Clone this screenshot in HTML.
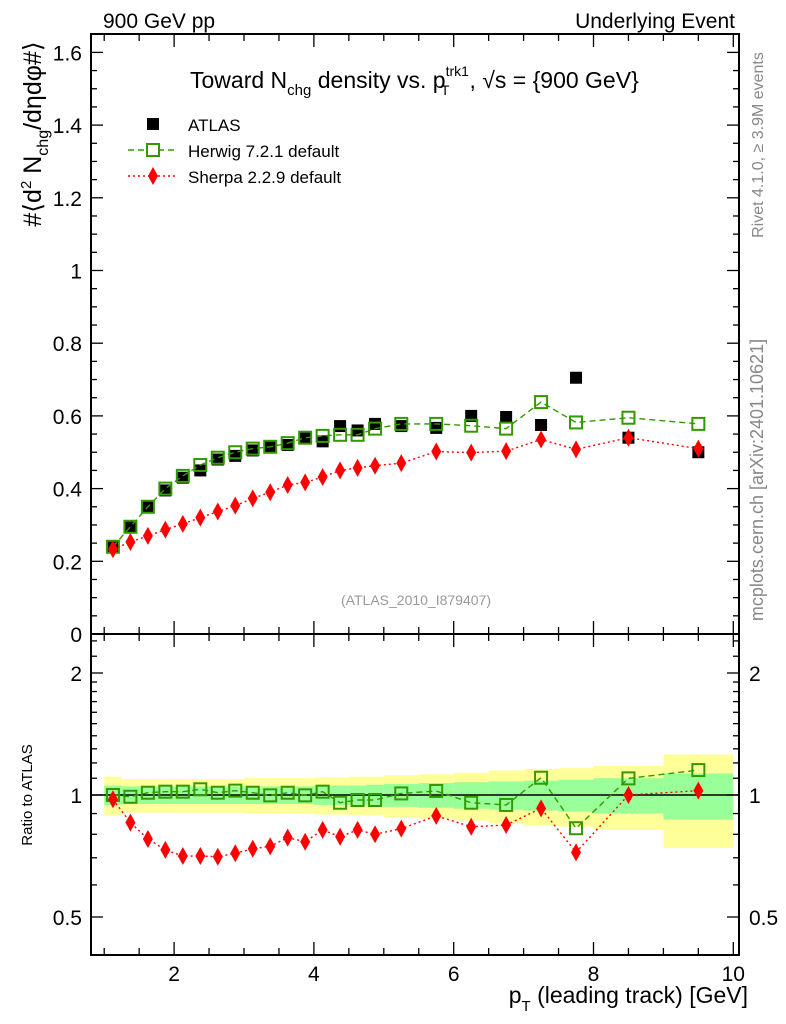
<!DOCTYPE html>
<html><head><meta charset="utf-8">
<style>
html,body{margin:0;padding:0;background:#fff;}
svg{display:block;font-family:"Liberation Sans",Arial,sans-serif;}
</style></head>
<body>
<svg id="chart" width="786" height="1024" viewBox="0 0 786 1024">
<rect x="0" y="0" width="786" height="1024" fill="#fff"/>
<g id="bands"></g>
<g id="grid"></g>
<g id="marks"></g>
<g id="legend"></g>
<text x="103" y="28" font-size="21">900 GeV pp</text>
<text x="735" y="28" font-size="21" text-anchor="end">Underlying Event</text>
<text x="190" y="88" font-size="23">Toward N<tspan font-size="15" dy="7">chg</tspan><tspan dy="-7"> density vs. p</tspan><tspan font-size="14" dy="-12">trk1</tspan><tspan font-size="14" dx="-28" dy="19">T</tspan><tspan dx="20" dy="-7">, √s = {900 GeV}</tspan></text>
<text x="416" y="605" font-size="14" fill="#999" text-anchor="middle">(ATLAS_2010_I879407)</text>
<text transform="translate(41,134) rotate(-90)" font-size="25" text-anchor="middle">#⟨d<tspan font-size="15" dy="-10">2</tspan><tspan dy="10"> N</tspan><tspan font-size="16" dy="7">chg</tspan><tspan dy="-7">/dηdφ#⟩</tspan></text>
<text transform="translate(32,795) rotate(-90)" font-size="15" text-anchor="middle">Ratio to ATLAS</text>
<text x="748" y="1003" font-size="23" text-anchor="end">p<tspan font-size="15" dy="8">T</tspan><tspan dy="-8"> (leading track) [GeV]</tspan></text>
<text transform="translate(763,145) rotate(-90)" font-size="16" fill="#888" text-anchor="middle">Rivet 4.1.0, ≥ 3.9M events</text>
<text transform="translate(763,480) rotate(-90)" font-size="18" fill="#888" text-anchor="middle">mcplots.cern.ch [arXiv:2401.10621]</text>
</svg>
<script>
const xCenters=[1.125,1.375,1.625,1.875,2.125,2.375,2.625,2.875,3.125,3.375,3.625,3.875,4.125,4.375,4.625,4.875,5.25,5.75,6.25,6.75,7.25,7.75,8.5,9.5];
const xEdges=[1,1.25,1.5,1.75,2,2.25,2.5,2.75,3,3.25,3.5,3.75,4,4.25,4.5,4.75,5,5.5,6,6.5,7,7.5,8,9,10];
const atlas=[0.24,0.295,0.35,0.395,0.43,0.45,0.48,0.49,0.505,0.515,0.52,0.54,0.53,0.572,0.56,0.578,0.572,0.567,0.60,0.597,0.575,0.705,0.54,0.50];
const herwig=[0.24,0.295,0.35,0.40,0.435,0.465,0.485,0.50,0.51,0.515,0.525,0.54,0.545,0.548,0.548,0.565,0.578,0.578,0.573,0.565,0.638,0.582,0.595,0.578];
const sherpa=[0.233,0.253,0.27,0.287,0.303,0.32,0.337,0.353,0.373,0.39,0.41,0.417,0.432,0.45,0.457,0.463,0.47,0.502,0.499,0.503,0.535,0.508,0.54,0.51];
const herwigRatio=[1.0,0.99,1.013,1.019,1.019,1.033,1.013,1.025,1.013,0.998,1.013,0.998,1.019,0.957,0.972,0.972,1.009,1.023,0.957,0.945,1.103,0.828,1.099,1.152];
const sherpaRatio=[0.976,0.855,0.779,0.732,0.707,0.707,0.704,0.718,0.737,0.747,0.785,0.767,0.82,0.789,0.82,0.80,0.826,0.888,0.835,0.843,0.927,0.722,1.0,1.025];
const statErr=[0.055,0.05,0.05,0.05,0.05,0.05,0.05,0.05,0.05,0.05,0.05,0.05,0.055,0.055,0.055,0.06,0.065,0.07,0.075,0.08,0.085,0.09,0.1,0.13];
const totErr=[0.11,0.095,0.095,0.095,0.095,0.095,0.095,0.095,0.1,0.1,0.1,0.1,0.105,0.105,0.11,0.11,0.12,0.125,0.135,0.15,0.16,0.165,0.18,0.26];
const mainTicks=[0,0.2,0.4,0.6,0.8,1,1.2,1.4,1.6];
const mainTickLabels=["0","0.2","0.4","0.6","0.8","1","1.2","1.4","1.6"];
const xTicks=[2,4,6,8,10];
const ratioTicks=[0.5,1,2];

const NS="http://www.w3.org/2000/svg";
const L=91,R=739,T=34,MB=634,RB=955;
const xs=v=>34.3+69.9*v;
const ys=v=>634-363.5*v;
const yr=v=>795-122*Math.log2(v);
function mk(tag,attrs,parent){const e=document.createElementNS(NS,tag);for(const k in attrs)e.setAttribute(k,attrs[k]);parent.appendChild(e);return e;}
const grid=document.getElementById('grid'),marks=document.getElementById('marks'),bands=document.getElementById('bands');

for(let i=0;i<xCenters.length;i++){
  const x0=xs(xEdges[i]),x1=xs(xEdges[i+1]);
  const y=mk('rect',{x:x0,y:yr(1+totErr[i]),width:x1-x0,height:yr(1-totErr[i])-yr(1+totErr[i]),fill:'#ffff99'},bands);
  
  
}
for(let i=0;i<xCenters.length;i++){
  const x0=xs(xEdges[i]),x1=xs(xEdges[i+1]);
  const g=mk('rect',{x:x0,y:yr(1+statErr[i]),width:x1-x0,height:yr(1-statErr[i])-yr(1+statErr[i]),fill:'#99ff99'},bands);
  
  
}
const f1=mk('rect',{x:L,y:T,width:R-L,height:MB-T,fill:'none',stroke:'#000','stroke-width':2},grid);


const f2=mk('rect',{x:L,y:MB,width:R-L,height:RB-MB,fill:'none',stroke:'#000','stroke-width':2},grid);


const one=mk('line',{x1:L,x2:R,y1:yr(1),y2:yr(1),stroke:'#000','stroke-width':1.5},grid);


for(let v=0;v<=1.651;v+=0.05){
  const major=Math.abs(v/0.2-Math.round(v/0.2))<1e-6;const len=major?12:6;const y=ys(v);
  mk('line',{x1:L,x2:L+len,y1:y,y2:y,stroke:'#000','stroke-width':1.3},grid);
  mk('line',{x1:R,x2:R-len,y1:y,y2:y,stroke:'#000','stroke-width':1.3},grid);
}
mainTicks.forEach((v,i)=>{
  const t=mk('text',{x:L-9,y:ys(v)+8,'font-size':21,'text-anchor':'end'},grid);t.textContent=mainTickLabels[i];
  
  
});
for(let v=1;v<=10.01;v+=0.5){
  const major=Math.abs(v/2-Math.round(v/2))<1e-6;const len=major?13:7;const x=xs(v);
  [[MB,-1],[RB,-1],[T,1],[MB,1]].forEach(([y0,d])=>mk('line',{x1:x,x2:x,y1:y0,y2:y0+d*len,stroke:'#000','stroke-width':1.3},grid));
}
xTicks.forEach(v=>{
  const t=mk('text',{x:xs(v),y:981,'font-size':21,'text-anchor':'middle'},grid);t.textContent=String(v);
  
  
});
const rminor=[0.5,0.6,0.7,0.8,0.9,1,1.1,1.2,1.3,1.4,1.5,1.6,1.7,1.8,1.9,2,2.2,2.4];
rminor.forEach(v=>{const y=yr(v);if(y<MB||y>RB)return;const major=ratioTicks.includes(v);const len=major?12:6;
  mk('line',{x1:L,x2:L+len,y1:y,y2:y,stroke:'#000','stroke-width':1.3},grid);
  mk('line',{x1:R,x2:R-len,y1:y,y2:y,stroke:'#000','stroke-width':1.3},grid);});
ratioTicks.forEach(v=>{
  const t=mk('text',{x:L-9,y:yr(v)+8,'font-size':21,'text-anchor':'end'},grid);t.textContent=String(v);
  
  
  const t2=mk('text',{x:R+10,y:yr(v)+8,'font-size':21,'text-anchor':'start'},grid);t2.textContent=String(v);
  
  
});
function line(vals,ymap,color,dash,name){
  const p=mk('polyline',{points:vals.map((v,i)=>xs(xCenters[i])+','+ymap(v)).join(' '),fill:'none',stroke:color,'stroke-width':1.4,'stroke-dasharray':dash},marks);
  
  
}
function squares(vals,ymap,name){
  vals.forEach((v,i)=>{const x=xs(xCenters[i]),y=ymap(v);
    const r=mk('rect',{x:x-6,y:y-6,width:12,height:12,fill:'#000'},marks);
    
    });
}
function opensq(vals,ymap,name){
  vals.forEach((v,i)=>{const x=xs(xCenters[i]),y=ymap(v);
    const r=mk('rect',{x:x-6,y:y-6,width:12,height:12,fill:'none',stroke:'#339900','stroke-width':2},marks);
    
    });
}
function diamonds(vals,ymap,name){
  vals.forEach((v,i)=>{const x=xs(xCenters[i]),y=ymap(v);
    const d=mk('polygon',{points:`${x},${y-9} ${x+5},${y} ${x},${y+9} ${x-5},${y}`,fill:'#ff0000'},marks);
    
    });
}
squares(atlas,ys,'atlas-point');
line(herwig,ys,'#339900','6,4','herwig-line');
opensq(herwig,ys,'herwig-point');
line(sherpa,ys,'#ff0000','2,3','sherpa-line');
diamonds(sherpa,ys,'sherpa-point');
line(herwigRatio,yr,'#339900','6,4','herwig-ratio-line');
opensq(herwigRatio,yr,'herwig-ratio-point');
line(sherpaRatio,yr,'#ff0000','2,3','sherpa-ratio-line');
diamonds(sherpaRatio,yr,'sherpa-ratio-point');
const lg=document.getElementById('legend');
const a=mk('rect',{x:147,y:118,width:12,height:12,fill:'#000'},lg);


mk('line',{x1:128,x2:176,y1:150,y2:150,stroke:'#339900','stroke-width':1.4,'stroke-dasharray':'6,4'},lg);
mk('rect',{x:147,y:144,width:12,height:12,fill:'#fff',stroke:'#339900','stroke-width':2},lg);
mk('line',{x1:128,x2:176,y1:176,y2:176,stroke:'#ff0000','stroke-width':1.4,'stroke-dasharray':'2,3'},lg);
mk('polygon',{points:'153,167 158,176 153,185 148,176',fill:'#ff0000'},lg);
[['ATLAS',131,'legend-atlas'],['Herwig 7.2.1 default',157,'legend-herwig'],['Sherpa 2.2.9 default',183,'legend-sherpa']].forEach(([s,y,n])=>{
  const t=mk('text',{x:188,y:y,'font-size':17},lg);t.textContent=s;
  
  
});
</script>
</body></html>
